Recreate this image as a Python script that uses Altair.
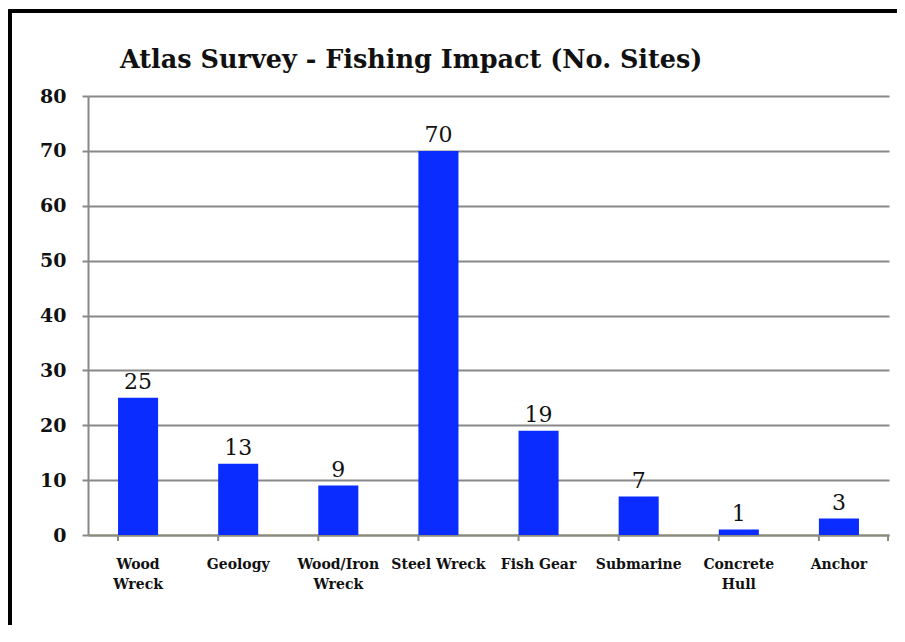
import altair as alt
import pandas as pd

title_text = "Atlas Survey - Fishing Impact (No. Sites)"
categories = ["Wood\nWreck", "Geology", "Wood/Iron\nWreck", "Steel Wreck",
              "Fish Gear", "Submarine", "Concrete\nHull", "Anchor"]
values = [25, 13, 9, 70, 19, 7, 1, 3]
y_ticks = [0, 10, 20, 30, 40, 50, 60, 70, 80]

df = pd.DataFrame({"cat": categories, "val": values})

W, H = 801, 439
SERIF = "DejaVu Serif"

xscale = alt.Scale(domain=categories, paddingInner=0.6, paddingOuter=0.3)

base = alt.Chart(df)

bars = base.mark_bar(color="#0a2cff").encode(
    x=alt.X("cat:N", sort=categories, scale=xscale, title=None,
            axis=alt.Axis(labelExpr="split(datum.label, '\\n')", labelAngle=0,
                          labelFont=SERIF, labelFontWeight="bold", labelFontSize=14,
                          labelColor="#111", labelPadding=22, labelLineHeight=20,
                          labelBaseline="top",
                          ticks=False, domainColor="#8c8c7a", domainWidth=2)),
    y=alt.Y("val:Q", scale=alt.Scale(domain=[0, 80]), title=None,
            axis=alt.Axis(values=y_ticks, labelFont=SERIF, labelFontWeight="bold",
                          labelFontSize=19, labelColor="#111", labelPadding=16,
                          tickSize=6, tickColor="#888", tickWidth=2,
                          domainColor="#888", domainWidth=2,
                          grid=True, gridColor="#888", gridWidth=2)),
)

text = base.mark_text(font=SERIF, fontSize=22, color="#111", baseline="bottom", dy=-4).encode(
    x=alt.X("cat:N", sort=categories, scale=xscale),
    y=alt.Y("val:Q"),
    text=alt.Text("val:Q"),
)

xticks = base.mark_rule(color="#8c8c7a", strokeWidth=2).encode(
    x=alt.X("cat:N", sort=categories, scale=xscale, bandPosition=0),
    y=alt.value(H),
    y2=alt.value(H + 6),
)

endtick = base.mark_rule(color="#8c8c7a", strokeWidth=2).encode(
    x=alt.value(W - 1), y=alt.value(H), y2=alt.value(H + 6)
)

frame = base.mark_rect(filled=False, stroke="black", strokeWidth=3).encode(
    x=alt.value(-78), x2=alt.value(W + 60), y=alt.value(-85), y2=alt.value(H + 150)
)

title = alt.Chart(pd.DataFrame({"t": [title_text]})).mark_text(
    font=SERIF, fontSize=25.5, fontWeight="bold", color="#111",
    align="left", baseline="alphabetic"
).encode(x=alt.value(32), y=alt.value(-28), text="t:N")

chart = alt.layer(bars, text, xticks, endtick, frame, title).properties(
    width=W, height=H,
    autosize=alt.AutoSizeParams(type="none"),
    padding={"left": 80, "top": 88, "right": 8, "bottom": 90},
).configure_view(stroke=None)

chart.save("out.html", embed_options={"renderer": "svg", "actions": False})
